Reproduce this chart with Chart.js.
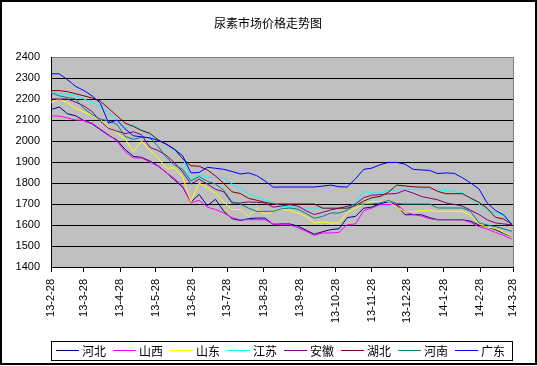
<!DOCTYPE html>
<html><head><meta charset="utf-8">
<script src="https://cdn.jsdelivr.net/npm/chart.js@4.4.0/dist/chart.umd.min.js"></script>
<style>html,body{margin:0;padding:0;background:#fff;}canvas{display:block;}</style>
</head><body>
<canvas id="c" width="537" height="366"></canvas>
<script>
const chartTitle = '尿素市场价格走势图';
// day offsets from 2013-02-28 (weekly observations)
const days = [0,7,14,21,28,35,42,49,56,63,70,77,84,91,98,105,112,119,126,133,140,147,154,161,168,175,182,189,196,203,210,217,224,231,238,245,252,259,266,273,280,287,294,301,308,315,322,329,336,343,350,357,364,371,378,385,392];
const tickDays = [0,28,59,89,120,150,181,212,242,273,303,334,365,393];
const tickLabels = ['13-2-28','13-3-28','13-4-28','13-5-28','13-6-28','13-7-28','13-8-28','13-9-28','13-10-28','13-11-28','13-12-28','14-1-28','14-2-28','14-3-28'];
const yMin = 1400, yMax = 2400, yStep = 100;
const seriesNames = ['河北','山西','山东','江苏','安徽','湖北','河南','广东'];
const seriesColors = ['#000080','#FF00FF','#FFFF00','#00FFFF','#800080','#800000','#008080','#0000FF'];

const hebei   = [2150,2162,2130,2120,2097,2082,2054,2027,2005,1960,1927,1922,1905,1882,1850,1815,1780,1710,1745,1692,1722,1665,1630,1622,1630,1633,1633,1603,1605,1605,1595,1575,1556,1568,1578,1582,1635,1641,1680,1685,1702,1710,1695,1649,1649,1649,1635,1625,1625,1625,1625,1618,1600,1590,1578,1560,1545];
const shanxi  = [2120,2118,2110,2100,2098,2085,2057,2030,2000,1950,1919,1919,1900,1880,1850,1822,1785,1705,1718,1685,1674,1657,1635,1625,1625,1625,1625,1605,1601,1601,1586,1570,1550,1562,1562,1565,1601,1605,1668,1681,1697,1697,1700,1665,1650,1643,1630,1625,1625,1625,1625,1612,1592,1580,1565,1550,1533];
const shandong= [2185,2200,2182,2155,2138,2122,2103,2066,2038,2010,1950,2000,1955,1920,1871,1871,1830,1710,1800,1775,1750,1710,1674,1674,1642,1678,1652,1665,1675,1670,1657,1641,1610,1615,1610,1609,1660,1681,1700,1712,1712,1712,1685,1662,1664,1668,1668,1665,1665,1665,1665,1645,1605,1590,1584,1565,1545];
const jiangsu = [2230,2225,2224,2215,2200,2185,2165,2135,2100,2060,2075,2055,2030,2006,1985,1955,1920,1812,1838,1828,1826,1825,1795,1776,1748,1733,1720,1705,1689,1686,1685,1681,1681,1681,1681,1681,1681,1705,1760,1752,1752,1765,1768,1770,1770,1770,1770,1768,1765,1760,1752,1725,1700,1668,1658,1650,1612];
const anhui   = [2200,2200,2200,2185,2167,2140,2095,2060,2047,2035,2044,2030,1970,1955,1932,1897,1852,1795,1818,1795,1770,1758,1705,1705,1710,1708,1705,1685,1690,1697,1690,1668,1650,1660,1672,1680,1689,1700,1730,1742,1744,1748,1750,1765,1752,1736,1728,1720,1705,1698,1690,1670,1650,1625,1610,1605,1601];
const hubei   = [2240,2240,2235,2225,2215,2205,2190,2155,2120,2085,2070,2050,2037,2006,1985,1962,1915,1882,1880,1862,1833,1798,1758,1750,1727,1718,1708,1700,1700,1700,1700,1700,1700,1680,1680,1680,1680,1692,1714,1730,1736,1756,1790,1786,1782,1780,1780,1760,1749,1749,1749,1728,1708,1680,1637,1628,1605];
const henan   = [2230,2215,2207,2200,2155,2125,2105,2095,2080,2022,2008,2018,2015,1975,1922,1885,1865,1810,1830,1808,1795,1765,1710,1700,1680,1665,1665,1665,1677,1681,1675,1655,1632,1641,1657,1657,1670,1697,1700,1700,1705,1717,1702,1700,1700,1700,1700,1681,1681,1681,1681,1665,1610,1600,1592,1582,1570];
const guangdong=[2320,2320,2292,2260,2240,2215,2180,2085,2100,2058,2025,2020,2015,2003,1985,1960,1930,1848,1850,1875,1870,1865,1855,1843,1848,1835,1810,1780,1781,1781,1781,1781,1781,1785,1790,1782,1781,1820,1865,1871,1887,1898,1898,1890,1865,1862,1860,1845,1848,1846,1825,1800,1772,1705,1670,1648,1602];
const seriesValues = [hebei, shanxi, shandong, jiangsu, anhui, hubei, henan, guangdong];

const CJK = '"Noto Sans CJK SC", "Noto Sans", sans-serif';
const LATIN = '"Liberation Sans", Arial, sans-serif';

const framePlugin = {
  id: 'frame',
  beforeDraw(chart) {
    const {ctx, chartArea: a} = chart;
    ctx.save();
    ctx.fillStyle = '#ffffff';
    ctx.fillRect(0, 0, chart.width, chart.height);
    ctx.fillStyle = '#C0C0C0';
    ctx.fillRect(a.left, a.top, a.right - a.left, a.bottom - a.top);
    ctx.restore();
  },
  afterDraw(chart) {
    const {ctx, chartArea: a} = chart;
    ctx.save();
    // right plot border
    ctx.strokeStyle = '#808080';
    ctx.lineWidth = 1;
    const rx = Math.round(a.right) + 0.5;
    ctx.beginPath(); ctx.moveTo(rx, a.top); ctx.lineTo(rx, a.bottom); ctx.stroke();
    // outer frame
    ctx.strokeStyle = '#000';
    ctx.lineWidth = 2;
    ctx.strokeRect(1, 1, chart.width - 2, chart.height - 3);
    // title
    ctx.fillStyle = '#000';
    ctx.font = '12px ' + CJK;
    ctx.textAlign = 'center';
    ctx.textBaseline = 'middle';
    ctx.fillText(chartTitle, 268, 23);
    // legend
    const bx = 51.5, by = 341.5, bw = 461, bh = 19;
    ctx.fillStyle = '#fff';
    ctx.fillRect(bx, by, bw, bh);
    ctx.lineWidth = 1;
    ctx.strokeStyle = '#000';
    ctx.strokeRect(bx, by, bw, bh);
    ctx.textAlign = 'left';
    chart.data.datasets.forEach((ds, i) => {
      const x0 = 56 + 57 * i;
      ctx.strokeStyle = ds.borderColor;
      ctx.beginPath(); ctx.moveTo(x0, 350.5); ctx.lineTo(x0 + 23, 350.5); ctx.stroke();
      ctx.fillStyle = '#000';
      ctx.fillText(ds.label, x0 + 26, 351);
    });
    ctx.restore();
  }
};

new Chart(document.getElementById('c'), {
  type: 'line',
  data: {
    datasets: seriesNames.map((name, i) => ({
      label: name,
      data: days.map((d, k) => ({x: d, y: seriesValues[i][k]})),
      borderColor: seriesColors[i],
      backgroundColor: seriesColors[i],
      borderWidth: 1,
      pointRadius: 0,
      tension: 0,
      fill: false,
      order: -i
    }))
  },
  options: {
    responsive: false,
    animation: false,
    devicePixelRatio: 1,
    layout: {padding: {left: 0, right: 24, top: 57, bottom: 24}},
    plugins: {legend: {display: false}, title: {display: false}, tooltip: {enabled: false}},
    scales: {
      x: {
        type: 'linear',
        min: tickDays[0],
        max: tickDays[tickDays.length - 1],
        afterBuildTicks(scale) { scale.ticks = tickDays.map(v => ({value: v})); },
        afterFit(scale) { scale.height = 75; },
        ticks: {
          autoSkip: false,
          maxRotation: 90,
          minRotation: 90,
          padding: 7,
          color: '#000',
          font: {family: LATIN, size: 11},
          callback(v) { const k = tickDays.indexOf(v); return k >= 0 ? tickLabels[k] : ''; }
        },
        grid: {drawOnChartArea: false, drawTicks: true, tickLength: 5, color: '#000'},
        border: {display: true, color: '#000', width: 1}
      },
      y: {
        min: yMin,
        max: yMax,
        afterFit(scale) { scale.width = 51; },
        ticks: {
          stepSize: yStep,
          padding: 11,
          color: '#000',
          font: {family: LATIN, size: 11},
          callback(v) { return String(v); }
        },
        grid: {
          drawTicks: false,
          color: (c) => (c.tick && c.tick.value === yMax) ? '#808080' : '#000000'
        },
        border: {display: true, color: '#000', width: 1}
      }
    }
  },
  plugins: [framePlugin]
});
</script>
</body></html>
